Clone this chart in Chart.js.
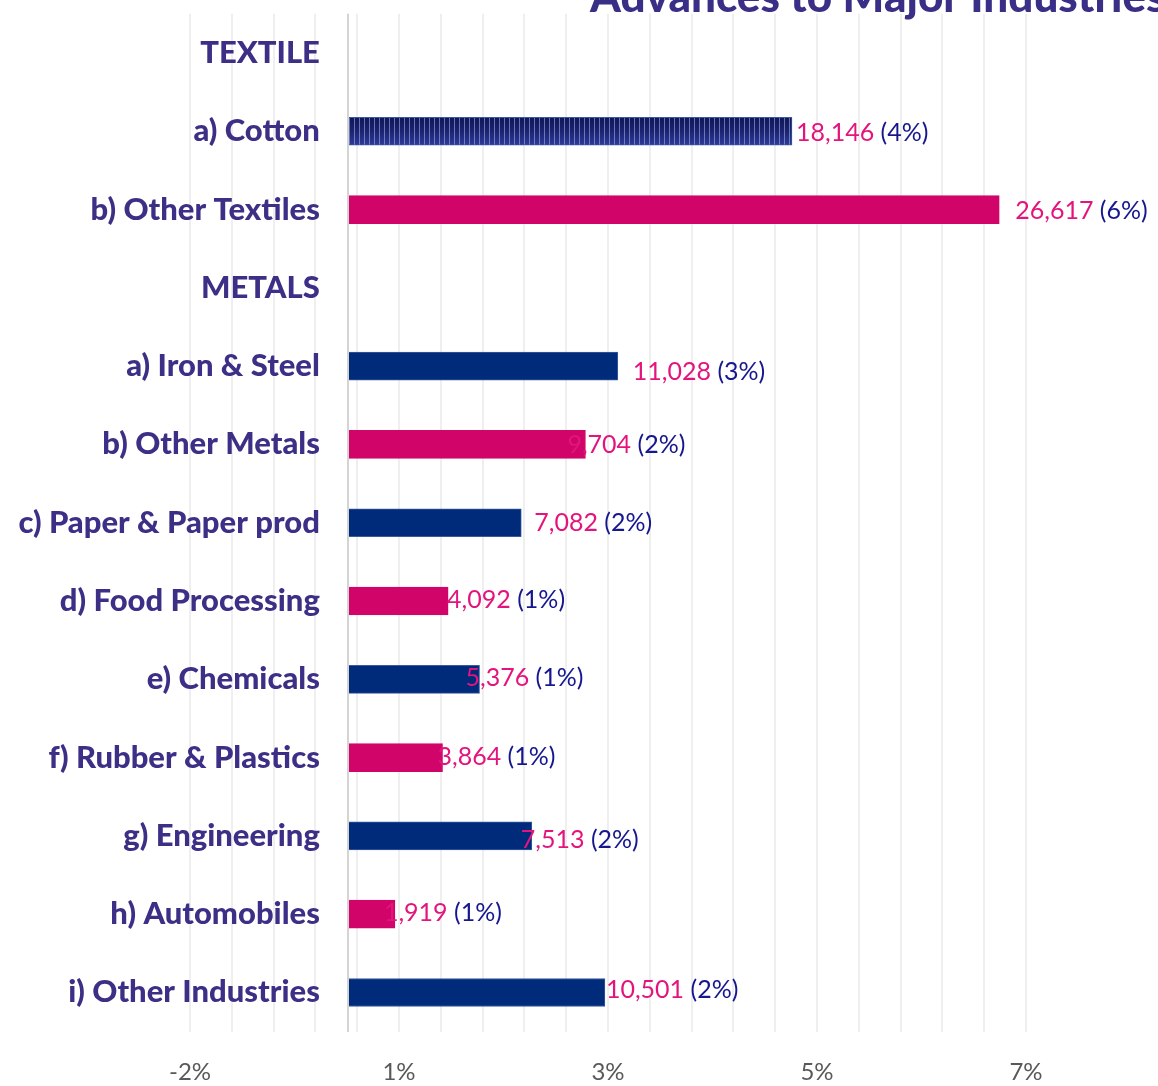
<!DOCTYPE html>
<html>
<head>
<meta charset="utf-8">
<script src="https://cdn.jsdelivr.net/npm/chart.js@4.4.1/dist/chart.umd.min.js"></script>
<style>
  html, body { margin: 0; padding: 0; background: #ffffff; overflow: hidden; height: 1086px; }
  canvas { display: block; }
</style>
</head>
<body>
<canvas id="chart" width="1158" height="1112"></canvas>
<script>
// Advances by industry (amount and share of total)
const categories = [
  'TEXTILE', 'a) Cotton', 'b) Other Textiles',
  'METALS', 'a) Iron & Steel', 'b) Other Metals',
  'c) Paper & Paper prod', 'd) Food Processing', 'e) Chemicals',
  'f) Rubber & Plastics', 'g) Engineering', 'h) Automobiles', 'i) Other Industries'
];
const advances = [null, 18146, 26617, null, 11028, 9704, 7082, 4092, 5376, 3864, 7513, 1919, 10501];
const shares   = [null, 4, 6, null, 3, 2, 2, 1, 1, 1, 2, 1, 2];
const tickLabels = ['-2%', '1%', '3%', '5%', '7%'];
const titleText = 'Advances to Major Industries';

// value axis extent and gridline count
const xMin = -6457;
const xMax = 27710;
const gridSteps = 20;
const labelEdge = -1150;   // right edge of the category labels, in value units

const NAVY = '#002a7a';
const PINK = '#d1046a';
const BAR_THICKNESS = 28;
// fill per row: 'striped' uses the patterned navy
const barPalette = [null, 'striped', PINK, null, NAVY, PINK, NAVY, PINK, NAVY, PINK, NAVY, PINK, NAVY];

// striped gradient fill for the cotton bar
let stripeTile = null;
function stripedFill(chart, index) {
  if (!stripeTile) {
    stripeTile = document.createElement('canvas');
    stripeTile.width = 5;
    stripeTile.height = BAR_THICKNESS;
    const t = stripeTile.getContext('2d');
    const g = t.createLinearGradient(0, 0, 0, BAR_THICKNESS);
    g.addColorStop(0, '#10165a');
    g.addColorStop(0.5, '#1c2472');
    g.addColorStop(1, '#2e3c9a');
    t.fillStyle = g;
    t.fillRect(0, 0, 5, BAR_THICKNESS);
    t.fillStyle = 'rgba(175,185,230,0.55)';
    t.fillRect(4, 0, 1, BAR_THICKNESS);
  }
  const pattern = chart.ctx.createPattern(stripeTile, 'repeat');
  const top = chart.scales.y.getPixelForValue(index) - BAR_THICKNESS / 2;
  pattern.setTransform(new DOMMatrix([1, 0, 0, 1, 0, top]));
  return pattern;
}

function barFill(c) {
  const p = barPalette[c.dataIndex];
  if (p === 'striped') return stripedFill(c.chart, c.dataIndex);
  return p || NAVY;
}
function barEdge(c) {
  const p = barPalette[c.dataIndex];
  return p === PINK ? PINK : '#3a5aa0';
}

// value + share labels next to each bar
const valueLabels = {
  id: 'valueLabels',
  afterDatasetsDraw(chart, args, opts) {
    const ctx = chart.ctx;
    const meta = chart.getDatasetMeta(0);
    ctx.save();
    ctx.font = opts.font;
    ctx.textAlign = 'left';
    ctx.textBaseline = 'alphabetic';
    meta.data.forEach((bar, i) => {
      const v = advances[i];
      if (v == null) return;
      const x = bar.x + opts.dx[i];
      const y = bar.y + opts.dy[i] + opts.capShift;
      const num = v.toLocaleString('en-US');
      ctx.fillStyle = opts.valueColor;
      ctx.fillText(num, x, y);
      const w = ctx.measureText(num + ' ').width;
      ctx.fillStyle = opts.shareColor;
      ctx.fillText('(' + shares[i] + '%)', x + w, y);
    });
    ctx.restore();
  }
};

// heading, partly above the top edge
const headline = {
  id: 'headline',
  afterDraw(chart, args, opts) {
    const ctx = chart.ctx;
    ctx.save();
    ctx.font = opts.font;
    ctx.fillStyle = opts.color;
    ctx.textAlign = 'left';
    ctx.textBaseline = 'alphabetic';
    ctx.fillText(opts.text, opts.x, opts.y);
    ctx.restore();
  }
};

new Chart(document.getElementById('chart'), {
  type: 'bar',
  data: {
    labels: categories,
    datasets: [{
      data: advances,
      backgroundColor: barFill,
      borderColor: barEdge,
      borderWidth: 1,
      barThickness: BAR_THICKNESS
    }]
  },
  options: {
    indexAxis: 'y',
    responsive: false,
    animation: false,
    devicePixelRatio: 1,
    layout: { padding: { left: 190, right: 132, top: 12, bottom: 0 } },
    scales: {
      x: {
        type: 'linear',
        min: xMin,
        max: xMax,
        afterBuildTicks(scale) {
          const step = (xMax - xMin) / gridSteps;
          const t = [];
          for (let k = 0; k <= gridSteps; k++) t.push({ value: xMin + k * step, gridIndex: k });
          t.push({ value: 0, zero: true });
          t.sort((a, b) => a.value - b.value);
          scale.ticks = t;
        },
        ticks: {
          autoSkip: false,
          maxRotation: 0,
          padding: 27,
          color: '#595959',
          font: { family: 'Lato', size: 24, lineHeight: 1.1 },
          callback(value, index, ticks) {
            const t = ticks[index];
            if (t.zero || t.gridIndex % 5 !== 0) return '';
            return tickLabels[t.gridIndex / 5];
          }
        },
        grid: {
          drawTicks: false,
          lineWidth: 2,
          color: c => (c.tick && c.tick.zero) ? '#d4d4d4' : '#efefef'
        },
        border: { display: false }
      },
      y: {
        type: 'category',
        position: { x: labelEdge },
        grid: { display: false },
        border: { display: false },
        ticks: {
          autoSkip: false,
          color: '#3b3086',
          font: { family: 'Lato', weight: 900, size: 31, lineHeight: 0.7 }
        }
      }
    },
    plugins: {
      legend: { display: false },
      tooltip: { enabled: false },
      title: { display: false },
      valueLabels: {
        font: '25px Lato',
        valueColor: '#e3147c',
        shareColor: '#16168f',
        capShift: 9,
        dx: [0, 4, 16, 0, 15, -18, 13, -1, -14, -5, -11, -11, 1],
        dy: [0, 1, 0, 0, 5, 0, -1, -2, -2, -2, 3, -2, -3]
      },
      headline: {
        text: titleText,
        font: '900 44px Lato',
        color: '#3a2f86',
        x: 590,
        y: 12
      }
    }
  },
  plugins: [valueLabels, headline]
});
</script>
</body>
</html>
